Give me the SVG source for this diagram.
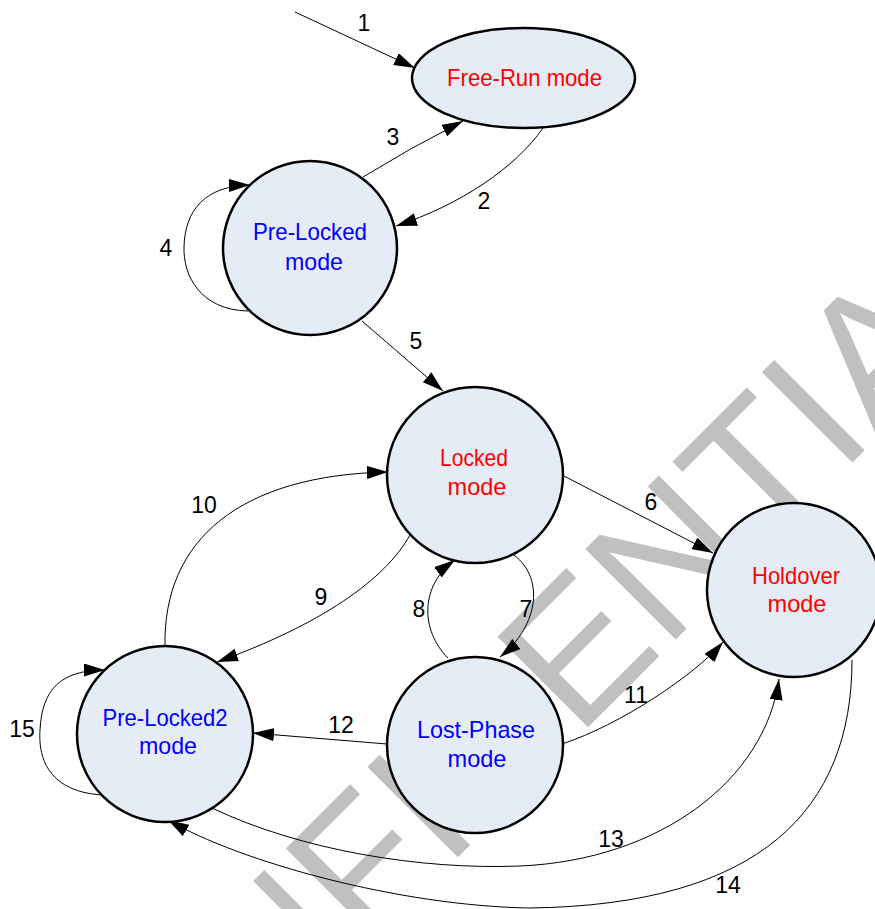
<svg xmlns="http://www.w3.org/2000/svg" width="875" height="909" viewBox="0 0 875 909">
<style>
.node{fill:#e6ecf6;stroke:#000;stroke-width:2.5}
.edge{fill:none;stroke:#000;stroke-width:1}
.lbl{font-family:"Liberation Sans",Arial,sans-serif;font-size:23px;fill:#000;text-anchor:middle}
.nt{font-family:"Liberation Sans",Arial,sans-serif;font-size:24px;text-anchor:middle}
.red{fill:#ff0000}
.blue{fill:#0000ff}
.wm{font-family:"Liberation Sans",Arial,sans-serif;font-size:186px;fill:#c0c0c0}
</style>
<defs>
<marker id="ah" markerWidth="21" markerHeight="13" refX="21" refY="6.5" orient="auto" markerUnits="userSpaceOnUse"><path d="M0,0 L21,6.5 L0,13 z" fill="#000"/></marker>
</defs>
<rect width="875" height="909" fill="#fff"/>
<text class="wm" x="73.2" y="1242" transform="rotate(-45 73.2 1242)">CONFIDENTIAL</text>
<g id="connectors">
<path class="edge" marker-end="url(#ah)" d="M295,12 L415,68"/>
<path class="edge" marker-end="url(#ah)" d="M543,128 C515,168 460,205 396,226"/>
<path class="edge" marker-end="url(#ah)" d="M363,177 Q410,148 463,121"/>
<path class="edge" marker-end="url(#ah)" d="M248,311 C200,310 183,275 184,247 C185,210 205,186 250,185"/>
<path class="edge" marker-end="url(#ah)" d="M362,321 L443,391"/>
<path class="edge" marker-end="url(#ah)" d="M562,475 L713,553"/>
<path class="edge" marker-end="url(#ah)" d="M511,553 C545,575 540,625 500,657"/>
<path class="edge" marker-end="url(#ah)" d="M448,658 C420,630 420,585 455,560"/>
<path class="edge" marker-end="url(#ah)" d="M410,535 C385,580 320,625 217,662"/>
<path class="edge" marker-end="url(#ah)" d="M165,646 C163,540 240,475 388,472"/>
<path class="edge" marker-end="url(#ah)" d="M562,744 C620,725 695,675 723,642"/>
<path class="edge" marker-end="url(#ah)" d="M387,744 L253,733"/>
<path class="edge" marker-end="url(#ah)" d="M212,808 C300,850 420,870 520,866 C660,860 765,780 779,679"/>
<path class="edge" marker-end="url(#ah)" d="M852,660 C852,810 760,905 530,908 C400,906 240,862 168,820"/>
<path class="edge" marker-end="url(#ah)" d="M103,795 C50,792 38,760 40,730 C42,690 60,670 105,670"/>
<text class="lbl" x="364" y="31">1</text>
<text class="lbl" x="484" y="209">2</text>
<text class="lbl" x="393" y="145">3</text>
<text class="lbl" x="166" y="256">4</text>
<text class="lbl" x="416" y="349">5</text>
<text class="lbl" x="651" y="510">6</text>
<text class="lbl" x="526" y="617">7</text>
<text class="lbl" x="419" y="617">8</text>
<text class="lbl" x="321" y="605">9</text>
<text class="lbl" x="204" y="513">10</text>
<text class="lbl" x="636" y="703">11</text>
<text class="lbl" x="341" y="733">12</text>
<text class="lbl" x="611" y="847">13</text>
<text class="lbl" x="728" y="893">14</text>
<text class="lbl" x="22" y="737">15</text>
</g>
<g id="free-run">
<ellipse class="node" cx="523.5" cy="78" rx="111.5" ry="50"/>
<text class="nt red" x="524.5" y="86" textLength="155" lengthAdjust="spacingAndGlyphs">Free-Run mode</text>
</g>
<g id="pre-locked">
<circle class="node" cx="310" cy="248" r="87"/>
<text class="nt blue" x="310" y="240" textLength="114" lengthAdjust="spacingAndGlyphs">Pre-Locked</text>
<text class="nt blue" x="314" y="270" textLength="58" lengthAdjust="spacingAndGlyphs">mode</text>
</g>
<g id="locked">
<circle class="node" cx="475" cy="475" r="88"/>
<text class="nt red" x="474" y="466" textLength="68" lengthAdjust="spacingAndGlyphs">Locked</text>
<text class="nt red" x="477" y="495" textLength="59" lengthAdjust="spacingAndGlyphs">mode</text>
</g>
<g id="holdover">
<circle class="node" cx="794" cy="590" r="87"/>
<text class="nt red" x="796" y="584" textLength="88" lengthAdjust="spacingAndGlyphs">Holdover</text>
<text class="nt red" x="797" y="612" textLength="59" lengthAdjust="spacingAndGlyphs">mode</text>
</g>
<g id="pre-locked2">
<circle class="node" cx="165" cy="734" r="88"/>
<text class="nt blue" x="165" y="726" textLength="125" lengthAdjust="spacingAndGlyphs">Pre-Locked2</text>
<text class="nt blue" x="168" y="754" textLength="58" lengthAdjust="spacingAndGlyphs">mode</text>
</g>
<g id="lost-phase">
<circle class="node" cx="475" cy="745" r="88"/>
<text class="nt blue" x="476" y="738" textLength="118" lengthAdjust="spacingAndGlyphs">Lost-Phase</text>
<text class="nt blue" x="477" y="767" textLength="59" lengthAdjust="spacingAndGlyphs">mode</text>
</g>
</svg>
